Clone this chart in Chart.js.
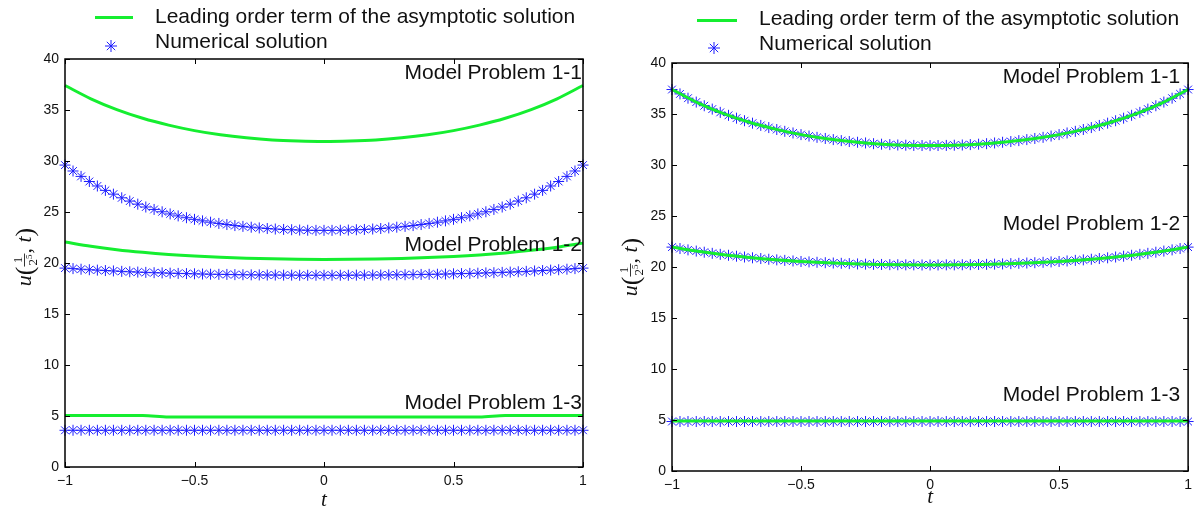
<!DOCTYPE html>
<html>
<head>
<meta charset="utf-8">
<script src="https://cdn.jsdelivr.net/npm/chart.js@4/dist/chart.umd.min.js"></script>
<style>
  body { margin: 0; background: #fff; width: 1198px; height: 510px; position: relative; overflow: hidden;
         font-family: "Liberation Sans", Arial, sans-serif; }
  .panel { position: absolute; top: 0; height: 510px; }
  .leg { position: absolute; font-size: 21px; line-height: 24px; color: #111; white-space: nowrap; }
  .legline { position: absolute; height: 3px; background: #15ee30; }
  .legstar { position: absolute; width: 14px; height: 14px; }
</style>
</head>
<body>

<div class="panel" style="left:0;width:600px"><canvas id="leftChart" width="600" height="510"></canvas></div>
<div class="panel" style="left:600px;width:598px"><canvas id="rightChart" width="598" height="510"></canvas></div>

<!-- legends -->
<div class="legline" style="left:95px;top:16px;width:38px"></div>
<div class="leg" id="legA1" style="left:155px;top:4px"></div>
<svg class="legstar" style="left:104px;top:39px" viewBox="-7 -7 14 14"><g stroke="#1e1eff" stroke-width="1"><line x1="-6" y1="0" x2="6" y2="0"/><line x1="0" y1="-6" x2="0" y2="6"/><line x1="-4.2" y1="-4.2" x2="4.2" y2="4.2"/><line x1="-4.2" y1="4.2" x2="4.2" y2="-4.2"/></g></svg>
<div class="leg" id="legA2" style="left:155px;top:29px"></div>

<div class="legline" style="left:697px;top:19px;width:40px"></div>
<div class="leg" id="legB1" style="left:759px;top:6px"></div>
<svg class="legstar" style="left:707px;top:41px" viewBox="-7 -7 14 14"><g stroke="#1e1eff" stroke-width="1"><line x1="-6" y1="0" x2="6" y2="0"/><line x1="0" y1="-6" x2="0" y2="6"/><line x1="-4.2" y1="-4.2" x2="4.2" y2="4.2"/><line x1="-4.2" y1="4.2" x2="4.2" y2="-4.2"/></g></svg>
<div class="leg" id="legB2" style="left:759px;top:31px"></div>

<script>
// 图例与标注文字
const legendLabels = ['Leading order term of the asymptotic solution', 'Numerical solution'];
const modelLabels = ['Model Problem 1-1', 'Model Problem 1-2', 'Model Problem 1-3'];

// 坐标轴刻度
const xTicks = [-1, -0.5, 0, 0.5, 1];
const yTicks = [0, 5, 10, 15, 20, 25, 30, 35, 40];

// 数值解的网格 (65 个点)
const tNum = [-1, -0.969, -0.938, -0.906, -0.875, -0.844, -0.813, -0.781, -0.75, -0.719, -0.688, -0.656, -0.625, -0.594, -0.563, -0.531,
  -0.5, -0.469, -0.438, -0.406, -0.375, -0.344, -0.313, -0.281, -0.25, -0.219, -0.188, -0.156, -0.125, -0.094, -0.063, -0.031, 0,
  0.031, 0.063, 0.094, 0.125, 0.156, 0.188, 0.219, 0.25, 0.281, 0.313, 0.344, 0.375, 0.406, 0.438, 0.469, 0.5,
  0.531, 0.563, 0.594, 0.625, 0.656, 0.688, 0.719, 0.75, 0.781, 0.813, 0.844, 0.875, 0.906, 0.938, 0.969, 1];

// 渐近解曲线的采样点
const tAsym = [-1, -0.9, -0.8, -0.7, -0.6, -0.5, -0.4, -0.3, -0.2, -0.1, 0, 0.1, 0.2, 0.3, 0.4, 0.5, 0.6, 0.7, 0.8, 0.9, 1];

// 左图
const leftAsym11 = [37.40, 36.10, 35.04, 34.19, 33.52, 32.98, 32.57, 32.27, 32.06, 31.96, 31.92, 31.96, 32.06, 32.27, 32.57, 32.98, 33.52, 34.19, 35.04, 36.10, 37.40];
const leftAsym12 = [22.05, 21.64, 21.31, 21.05, 20.84, 20.68, 20.56, 20.47, 20.41, 20.37, 20.35, 20.36, 20.39, 20.45, 20.53, 20.64, 20.79, 20.99, 21.24, 21.55, 21.95];
const leftAsym13 = [5.05, 5.05, 5.05, 5.05, 4.9, 4.9, 4.9, 4.9, 4.9, 4.9, 4.9, 4.9, 4.9, 4.9, 4.9, 4.9, 4.9, 5.05, 5.05, 5.05, 5.05];

const leftNum11 = [29.60, 29.02, 28.49, 27.99, 27.55, 27.12, 26.75, 26.39, 26.07, 25.77, 25.49, 25.25, 25.02, 24.81, 24.62, 24.44,
  24.28, 24.13, 24.00, 23.88, 23.77, 23.67, 23.59, 23.51, 23.44, 23.38, 23.33, 23.29, 23.26, 23.23, 23.21, 23.20, 23.20,
  23.20, 23.21, 23.23, 23.26, 23.29, 23.33, 23.38, 23.44, 23.51, 23.59, 23.67, 23.77, 23.88, 24.00, 24.13, 24.28,
  24.44, 24.62, 24.81, 25.02, 25.25, 25.49, 25.77, 26.07, 26.39, 26.75, 27.12, 27.55, 27.99, 28.49, 29.02, 29.60];
const leftNum12 = [19.50, 19.45, 19.39, 19.34, 19.30, 19.26, 19.22, 19.18, 19.14, 19.11, 19.08, 19.05, 19.03, 19.00, 18.98, 18.96,
  18.94, 18.92, 18.90, 18.89, 18.88, 18.86, 18.85, 18.84, 18.83, 18.82, 18.82, 18.81, 18.81, 18.80, 18.80, 18.80, 18.80,
  18.80, 18.80, 18.80, 18.81, 18.81, 18.82, 18.82, 18.83, 18.84, 18.85, 18.86, 18.88, 18.89, 18.90, 18.92, 18.94,
  18.96, 18.98, 19.00, 19.03, 19.05, 19.08, 19.11, 19.14, 19.18, 19.22, 19.26, 19.30, 19.34, 19.39, 19.45, 19.50];
const leftNum13 = [3.6, 3.6, 3.6, 3.6, 3.6, 3.6, 3.6, 3.6, 3.6, 3.6, 3.6, 3.6, 3.6, 3.6, 3.6, 3.6,
  3.6, 3.6, 3.6, 3.6, 3.6, 3.6, 3.6, 3.6, 3.6, 3.6, 3.6, 3.6, 3.6, 3.6, 3.6, 3.6, 3.6,
  3.6, 3.6, 3.6, 3.6, 3.6, 3.6, 3.6, 3.6, 3.6, 3.6, 3.6, 3.6, 3.6, 3.6, 3.6, 3.6,
  3.6, 3.6, 3.6, 3.6, 3.6, 3.6, 3.6, 3.6, 3.6, 3.6, 3.6, 3.6, 3.6, 3.6, 3.6, 3.6];

// 右图
const rightAsym11 = [37.40, 36.10, 35.04, 34.19, 33.52, 32.98, 32.57, 32.27, 32.06, 31.94, 31.90, 31.94, 32.06, 32.27, 32.57, 32.98, 33.52, 34.19, 35.04, 36.10, 37.40];
const rightAsym12 = [21.95, 21.54, 21.20, 20.93, 20.71, 20.54, 20.41, 20.32, 20.25, 20.21, 20.20, 20.21, 20.25, 20.32, 20.41, 20.54, 20.71, 20.93, 21.20, 21.54, 21.95];
const rightAsym13 = [4.9, 4.9, 4.9, 4.9, 4.9, 4.9, 4.9, 4.9, 4.9, 4.9, 4.9, 4.9, 4.9, 4.9, 4.9, 4.9, 4.9, 4.9, 4.9, 4.9, 4.9];

const rightNum11 = [37.40, 36.97, 36.55, 36.17, 35.81, 35.48, 35.16, 34.87, 34.59, 34.34, 34.10, 33.88, 33.67, 33.48, 33.30, 33.14,
  32.98, 32.84, 32.71, 32.60, 32.49, 32.39, 32.30, 32.23, 32.16, 32.09, 32.04, 32.00, 31.96, 31.94, 31.92, 31.91, 31.90,
  31.91, 31.92, 31.94, 31.96, 32.00, 32.04, 32.09, 32.16, 32.23, 32.30, 32.39, 32.49, 32.60, 32.71, 32.84, 32.98,
  33.14, 33.30, 33.48, 33.67, 33.88, 34.10, 34.34, 34.59, 34.87, 35.16, 35.48, 35.81, 36.17, 36.55, 36.97, 37.40];
const rightNum12 = [21.95, 21.81, 21.68, 21.56, 21.45, 21.34, 21.24, 21.15, 21.06, 20.98, 20.90, 20.83, 20.76, 20.70, 20.65, 20.59,
  20.54, 20.50, 20.46, 20.42, 20.39, 20.36, 20.33, 20.30, 20.28, 20.26, 20.25, 20.23, 20.22, 20.21, 20.21, 20.20, 20.20,
  20.20, 20.21, 20.21, 20.22, 20.23, 20.25, 20.26, 20.28, 20.30, 20.33, 20.36, 20.39, 20.42, 20.46, 20.50, 20.54,
  20.59, 20.65, 20.70, 20.76, 20.83, 20.90, 20.98, 21.06, 21.15, 21.24, 21.34, 21.45, 21.56, 21.68, 21.81, 21.95];
const rightNum13 = [4.85, 4.85, 4.85, 4.85, 4.85, 4.85, 4.85, 4.85, 4.85, 4.85, 4.85, 4.85, 4.85, 4.85, 4.85, 4.85,
  4.85, 4.85, 4.85, 4.85, 4.85, 4.85, 4.85, 4.85, 4.85, 4.85, 4.85, 4.85, 4.85, 4.85, 4.85, 4.85, 4.85,
  4.85, 4.85, 4.85, 4.85, 4.85, 4.85, 4.85, 4.85, 4.85, 4.85, 4.85, 4.85, 4.85, 4.85, 4.85, 4.85,
  4.85, 4.85, 4.85, 4.85, 4.85, 4.85, 4.85, 4.85, 4.85, 4.85, 4.85, 4.85, 4.85, 4.85, 4.85, 4.85];

const GREEN = '#15ee30';
const BLUE = '#1e1eff';
const SERIF = '"Liberation Serif", "DejaVu Serif", serif';

document.getElementById('legA1').textContent = legendLabels[0];
document.getElementById('legA2').textContent = legendLabels[1];
document.getElementById('legB1').textContent = legendLabels[0];
document.getElementById('legB2').textContent = legendLabels[1];

function pts(xs, ys) {
    return ys.map((y, i) => ({ x: xs[i], y: y }));
}

function asymSet(ys) {
    return {
        data: pts(tAsym, ys),
        showLine: true,
        borderColor: GREEN,
        borderWidth: 3,
        pointRadius: 0,
        cubicInterpolationMode: 'monotone',
        clip: false
    };
}

function numSet(ys) {
    return {
        data: pts(tNum, ys),
        showLine: false,
        pointStyle: 'star',
        pointRadius: 5.5,
        pointBorderColor: BLUE,
        pointBackgroundColor: BLUE,
        pointBorderWidth: 1,
        clip: false
    };
}

function fmt(v) {
    return v < 0 ? '\u2212' + Math.abs(v) : String(v);
}

// 边框、内向刻度、标注、坐标轴标题
const decorPlugin = {
    id: 'decor',
    afterDraw(chart, args, o) {
        const ctx = chart.ctx;
        const a = chart.chartArea;
        const xs = chart.scales.x, ys = chart.scales.y;
        ctx.save();
        ctx.strokeStyle = '#000';
        ctx.lineWidth = 1.5;
        ctx.strokeRect(a.left, a.top, a.right - a.left, a.bottom - a.top);
        ctx.lineWidth = 1;
        ctx.beginPath();
        xTicks.forEach(v => {
            const px = Math.round(xs.getPixelForValue(v)) + 0.5;
            ctx.moveTo(px, a.bottom); ctx.lineTo(px, a.bottom - 5);
            ctx.moveTo(px, a.top); ctx.lineTo(px, a.top + 5);
        });
        yTicks.forEach(v => {
            const py = Math.round(ys.getPixelForValue(v)) + 0.5;
            ctx.moveTo(a.left, py); ctx.lineTo(a.left + 5, py);
            ctx.moveTo(a.right, py); ctx.lineTo(a.right - 5, py);
        });
        ctx.stroke();

        // Model Problem 标注
        ctx.fillStyle = '#111';
        ctx.font = '21px "Liberation Sans", Arial, sans-serif';
        ctx.textAlign = 'right';
        ctx.textBaseline = 'middle';
        o.labelY.forEach((yv, i) => {
            ctx.fillText(modelLabels[i], a.right - o.labelInset, ys.getPixelForValue(yv));
        });

        // x 轴标题
        ctx.font = 'italic 21px ' + SERIF;
        ctx.textAlign = 'center';
        ctx.textBaseline = 'alphabetic';
        ctx.fillText('t', (a.left + a.right) / 2, o.xTitleY);

        // y 轴标题 u(1/2^5, t)
        ctx.translate(o.yTitleX, (a.top + a.bottom) / 2 + o.yTitleShift);
        ctx.rotate(-Math.PI / 2);
        ctx.textAlign = 'left';
        const fU = 'italic 22px ' + SERIF;
        const fP = '26px ' + SERIF;
        const fN = '13px ' + SERIF;
        const fS = '9px ' + SERIF;
        const fC = '22px ' + SERIF;
        ctx.font = fU; const wU = ctx.measureText('u').width;
        ctx.font = fP; const wP = ctx.measureText('(').width;
        ctx.font = fN; const w2 = ctx.measureText('2').width; const w1 = ctx.measureText('1').width;
        ctx.font = fS; const w5 = ctx.measureText('5').width;
        const wF = w2 + w5 + 2;
        ctx.font = fC; const wC = ctx.measureText(', ').width;
        ctx.font = fU; const wT = ctx.measureText('t').width;
        const total = wU + wP + wF + wC + wT + wP;
        let x = -total / 2;
        const base = 7;
        ctx.font = fU; ctx.fillText('u', x, base); x += wU;
        ctx.font = fP; ctx.fillText('(', x, base + 2); x += wP;
        ctx.font = fN; ctx.fillText('1', x + (wF - w1) / 2, base - 9);
        ctx.fillText('2', x + 1, base + 6);
        ctx.font = fS; ctx.fillText('5', x + 1 + w2, base + 1);
        ctx.beginPath(); ctx.lineWidth = 0.8;
        ctx.moveTo(x, base - 6.5); ctx.lineTo(x + wF, base - 6.5); ctx.stroke();
        x += wF;
        ctx.font = fC; ctx.fillText(', ', x, base); x += wC;
        ctx.font = fU; ctx.fillText('t', x, base); x += wT;
        ctx.font = fP; ctx.fillText(')', x, base + 2);
        ctx.restore();
    }
};

function makeChart(id, datasets, box, decor) {
    return new Chart(document.getElementById(id).getContext('2d'), {
        type: 'scatter',
        data: { datasets: datasets },
        options: {
            responsive: false,
            animation: false,
            events: [],
            layout: { padding: { left: 0, right: box.right, top: box.top, bottom: 0 } },
            plugins: { legend: { display: false }, tooltip: { enabled: false }, decor: decor },
            scales: {
                x: {
                    type: 'linear', min: -1, max: 1,
                    afterBuildTicks: s => { s.ticks = xTicks.map(v => ({ value: v })); },
                    afterFit: s => { s.height = box.xHeight; },
                    grid: { display: false, drawTicks: false },
                    border: { display: false },
                    ticks: { callback: fmt, color: '#111', padding: 6, maxRotation: 0,
                             font: { family: '"Liberation Sans", Arial, sans-serif', size: 14 } }
                },
                y: {
                    type: 'linear', min: 0, max: 40,
                    afterBuildTicks: s => { s.ticks = yTicks.map(v => ({ value: v })); },
                    afterFit: s => { s.width = box.yWidth; },
                    grid: { display: false, drawTicks: false },
                    border: { display: false },
                    ticks: { callback: fmt, color: '#111', padding: 6,
                             font: { family: '"Liberation Sans", Arial, sans-serif', size: 14 } }
                }
            }
        },
        plugins: [decorPlugin]
    });
}

makeChart('leftChart',
    [asymSet(leftAsym11), asymSet(leftAsym12), asymSet(leftAsym13),
     numSet(leftNum11), numSet(leftNum12), numSet(leftNum13)],
    { right: 17, top: 59, xHeight: 43, yWidth: 65 },
    { labelY: [38.6, 21.7, 6.3], labelInset: 1, xTitleY: 506, yTitleX: 24, yTitleShift: -6 });

makeChart('rightChart',
    [asymSet(rightAsym11), asymSet(rightAsym12), asymSet(rightAsym13),
     numSet(rightNum11), numSet(rightNum12), numSet(rightNum13)],
    { right: 7, top: 63, xHeight: 39, yWidth: 72 },
    { labelY: [38.6, 24.2, 7.45], labelInset: 8, xTitleY: 503, yTitleX: 30, yTitleShift: 0 });
</script>
</body>
</html>
